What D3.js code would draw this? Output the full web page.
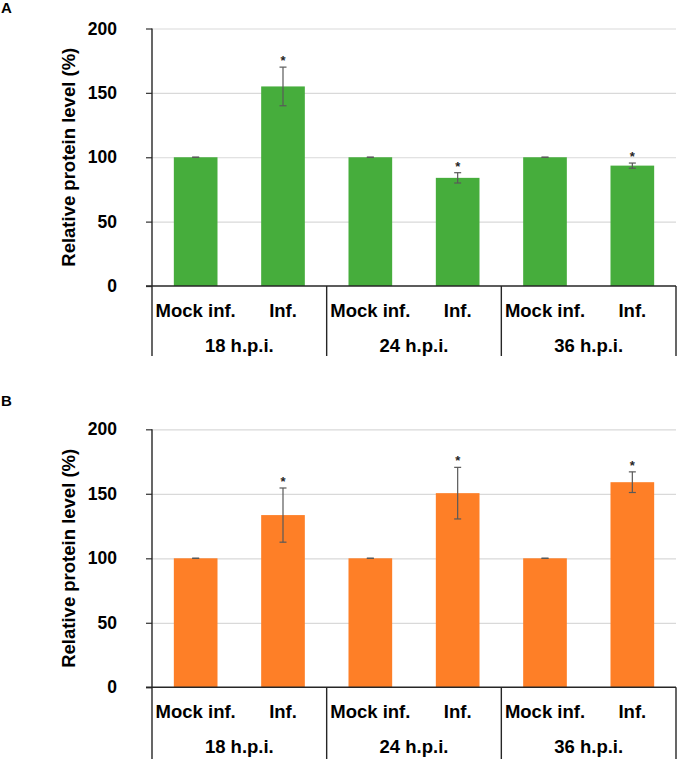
<!DOCTYPE html>
<html>
<head>
<meta charset="utf-8">
<script src="https://cdn.jsdelivr.net/npm/d3@7"></script>
<style>
  body { margin: 0; background: #fff; }
  svg text { font-family: "Liberation Sans", Arial, sans-serif; font-weight: bold; fill: #000; }
</style>
</head>
<body>
<div id="chart"></div>
<script>
// Categories
const groups = ["18 h.p.i.", "24 h.p.i.", "36 h.p.i."];
const conditions = ["Mock inf.", "Inf."];
const yTicks = [0, 50, 100, 150, 200];

// Panel A (green)
const valuesA = [100, 155, 100, 84, 100, 93.5];
const errorsA = [0, 15, 0, 4, 0, 2];
const starsA = [false, true, false, true, false, true];

// Panel B (orange)
const valuesB = [100, 133.5, 100, 150.5, 100, 159];
const errorsB = [0, 21, 0, 20, 0, 8];
const starsB = [false, true, false, true, false, true];

const W = 677, H = 759;
const svg = d3.select("#chart").append("svg")
    .attr("width", W)
    .attr("height", H);

const left = 152, right = 676;

// one label per bar: group + condition
const cats = [];
groups.forEach(g => conditions.forEach(c => cats.push(g + "|" + c)));

const x = d3.scaleBand().domain(cats).range([left, right]).padding(0);
const xg = d3.scaleBand().domain(groups).range([left, right]).padding(0);

function drawPanel(top, bottom, boxBottom, values, errors, stars, color, letter, letterY) {
    const g = svg.append("g");
    const y = d3.scaleLinear().domain([0, 200]).range([bottom, top]);

    const data = cats.map((c, i) => ({cat: c, value: values[i], err: errors[i], star: stars[i]}));

    // gridlines
    g.append("g")
        .attr("transform", "translate(" + left + ",0)")
        .call(d3.axisRight(y).tickValues(yTicks.filter(d => d > 0)).tickSize(right - left).tickFormat(""))
        .call(a => a.select(".domain").remove())
        .call(a => a.selectAll("line").attr("stroke", "#d9d9d9").attr("stroke-width", 1.2));

    // bars
    const bw = x.bandwidth() * 0.5;
    g.selectAll("rect.bar")
        .data(data)
        .enter().append("rect")
            .attr("class", "bar")
            .attr("x", d => x(d.cat) + x.bandwidth() / 2 - bw / 2)
            .attr("width", bw)
            .attr("y", d => y(d.value))
            .attr("height", d => y(0) - y(d.value))
            .attr("fill", color);

    // error bars
    const eb = g.selectAll("g.err")
        .data(data)
        .enter().append("g")
            .attr("class", "err")
            .attr("stroke", "#595959")
            .attr("stroke-width", 1.2);
    const cx = d => x(d.cat) + x.bandwidth() / 2;
    eb.append("line")
        .attr("x1", cx).attr("x2", cx)
        .attr("y1", d => y(d.value + d.err))
        .attr("y2", d => y(d.value - d.err));
    eb.append("line")
        .attr("x1", d => cx(d) - 3.5).attr("x2", d => cx(d) + 3.5)
        .attr("y1", d => y(d.value + d.err))
        .attr("y2", d => y(d.value + d.err));
    eb.append("line")
        .attr("x1", d => cx(d) - 3.5).attr("x2", d => cx(d) + 3.5)
        .attr("y1", d => y(d.value - d.err))
        .attr("y2", d => y(d.value - d.err));

    // significance stars
    g.selectAll("text.star")
        .data(data.filter(d => d.star))
        .enter().append("text")
            .attr("class", "star")
            .attr("x", cx)
            .attr("y", d => y(d.value + d.err) - 2)
            .attr("text-anchor", "middle")
            .style("font-size", "13px")
            .style("fill", "#262626")
            .text("*");

    // y axis
    g.append("g")
        .attr("transform", "translate(" + left + ",0)")
        .call(d3.axisLeft(y).tickValues(yTicks).tickSize(6).tickPadding(29).tickSizeOuter(0))
        .call(a => a.select(".domain").remove())
        .call(a => a.selectAll("line").attr("stroke", "#404040").attr("stroke-width", 1.3))
        .call(a => a.selectAll("text").style("font-size", "17.5px").attr("fill", "#000"));

    // axis lines and category box
    const lines = g.append("g").attr("stroke", "#262626").attr("stroke-width", 1.4);
    lines.append("line")
        .attr("x1", left - 6).attr("x2", right)
        .attr("y1", y(0)).attr("y2", y(0));
    lines.append("line")
        .attr("x1", left).attr("x2", left)
        .attr("y1", y(200)).attr("y2", boxBottom);
    lines.selectAll("line.sep")
        .data(groups)
        .enter().append("line")
            .attr("class", "sep")
            .attr("x1", d => xg(d) + xg.bandwidth()).attr("x2", d => xg(d) + xg.bandwidth())
            .attr("y1", y(0)).attr("y2", boxBottom);

    // category labels
    g.selectAll("text.cond")
        .data(cats)
        .enter().append("text")
            .attr("class", "cond")
            .attr("x", d => x(d) + x.bandwidth() / 2)
            .attr("y", y(0) + 30.5)
            .attr("text-anchor", "middle")
            .style("font-size", "18.5px")
            .text(d => d.split("|")[1]);

    g.selectAll("text.grp")
        .data(groups)
        .enter().append("text")
            .attr("class", "grp")
            .attr("x", d => xg(d) + xg.bandwidth() / 2)
            .attr("y", y(0) + 66)
            .attr("text-anchor", "middle")
            .style("font-size", "18.5px")
            .text(d => d);

    // y axis title
    g.append("text")
        .attr("transform", "translate(75," + ((top + bottom) / 2) + ") rotate(-90)")
        .attr("text-anchor", "middle")
        .style("font-size", "18.5px")
        .text("Relative protein level (%)");

    // panel letter
    svg.append("text")
        .attr("x", 1)
        .attr("y", letterY)
        .style("font-size", "15px")
        .text(letter);
}

drawPanel(28.5, 286, 356, valuesA, errorsA, starsA, "#46ad3c", "A", 13);
drawPanel(429.3, 687.3, 759, valuesB, errorsB, starsB, "#fe7f27", "B", 406);
</script>
</body>
</html>
